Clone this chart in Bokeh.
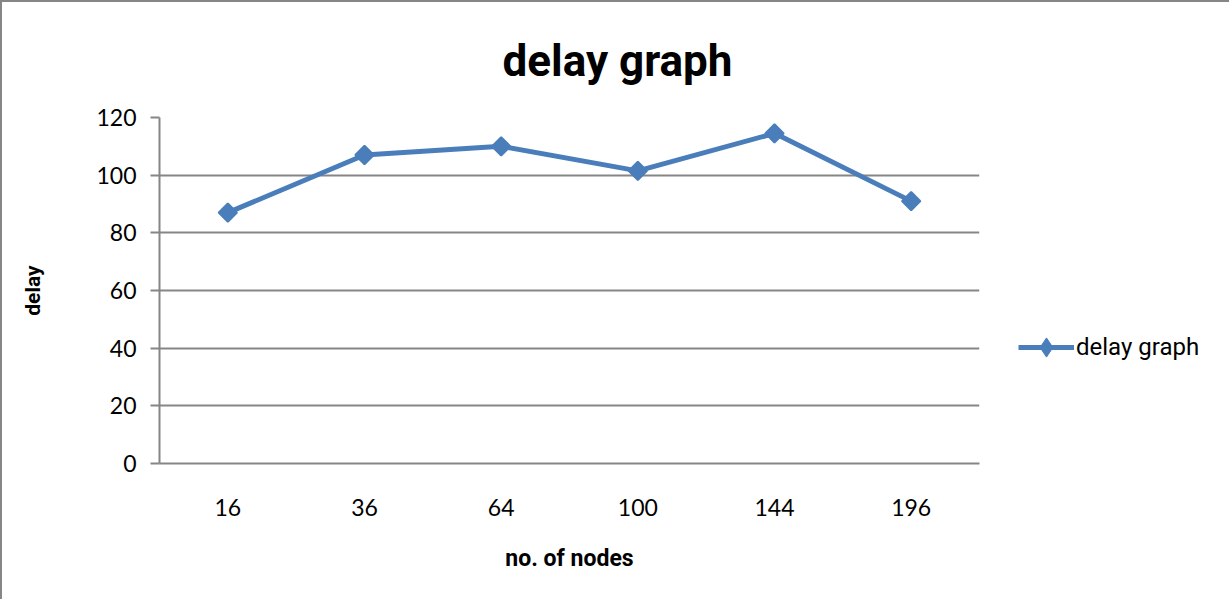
import math
from bokeh.plotting import figure
from bokeh.models import Legend, LegendItem, Title, FixedTicker
from bokeh.embed import file_html
from bokeh.resources import INLINE

nodes = ["16", "36", "64", "100", "144", "196"]
delay = [87, 107, 110, 101.5, 114.5, 91]
y_ticks = [0, 20, 40, 60, 80, 100, 120]

p = figure(frame_width=820, frame_height=346, x_range=nodes, y_range=(0, 120),
           output_backend="svg", toolbar_location=None,
           min_border_left=157, min_border_right=0,
           min_border_top=115, min_border_bottom=136)
p.styles = {"border-left": "2px solid #868686", "border-top": "2px solid #868686"}
p.outline_line_color = None
p.background_fill_color = "white"
p.border_fill_color = "white"

col = "#4a7ebb"
r = p.line(nodes, delay, line_color=col, line_width=5)
m = p.scatter(nodes, delay, marker="square", size=13, angle=math.pi / 4,
              fill_color=col, line_color=col, line_width=2)
# legend-only glyph, placed below the visible y range so only the legend shows it
lg = p.scatter(x=[nodes[0]], y=[-60], marker="diamond", size=20,
               fill_color=col, line_color=col)

# axes
p.yaxis.ticker = FixedTicker(ticks=y_ticks)
p.yaxis.axis_line_color = "#868686"
p.yaxis.axis_line_width = 2
p.yaxis.major_tick_line_color = "#868686"
p.yaxis.major_tick_line_width = 2
p.yaxis.major_tick_out = 9
p.yaxis.major_tick_in = 0
p.yaxis.minor_tick_line_color = None
p.yaxis.major_label_standoff = 14
p.yaxis.major_label_text_font = "Lato"
p.yaxis.major_label_text_font_size = "23px"
p.yaxis.major_label_text_color = "black"
p.yaxis.axis_label = "delay"
p.yaxis.axis_label_text_font = "Roboto"
p.yaxis.axis_label_text_font_style = "bold"
p.yaxis.axis_label_text_font_size = "21px"
p.yaxis.axis_label_text_color = "black"
p.yaxis.axis_label_standoff = 48

p.xaxis.axis_line_color = "#868686"
p.xaxis.axis_line_width = 2
p.xaxis.major_tick_line_color = None
p.xaxis.minor_tick_line_color = None
p.xaxis.major_tick_out = 0
p.xaxis.major_label_standoff = 35
p.xaxis.major_label_text_font = "Lato"
p.xaxis.major_label_text_font_size = "23px"
p.xaxis.major_label_text_color = "black"
p.xaxis.axis_label = "no. of nodes"
p.xaxis.axis_label_text_font = "Roboto"
p.xaxis.axis_label_text_font_style = "bold"
p.xaxis.axis_label_text_font_size = "23px"
p.xaxis.axis_label_text_color = "black"
p.xaxis.axis_label_standoff = 26

p.xgrid.grid_line_color = None
p.ygrid.grid_line_color = "#868686"
p.ygrid.grid_line_width = 2

t = Title(text="delay graph", align="left", offset=343, standoff=61,
          text_font="Roboto", text_font_style="bold",
          text_font_size="44px", text_color="black")
p.add_layout(t, "above")

legend = Legend(items=[LegendItem(label="delay graph", renderers=[r, lg])],
                location=(39, 92), border_line_color=None,
                background_fill_alpha=0, glyph_width=56, glyph_height=48,
                label_text_font="Roboto", label_text_font_size="24px",
                label_text_color="black",
                label_standoff=2, padding=0, margin=0)
p.add_layout(legend, "right")

open("out.html", "w").write(file_html(p, INLINE))
